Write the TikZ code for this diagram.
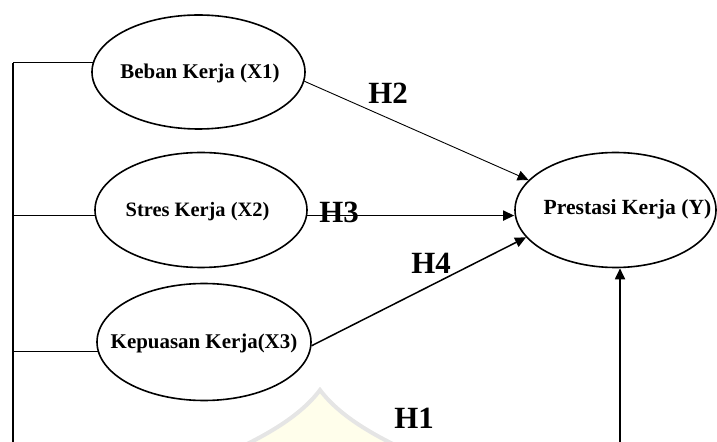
\documentclass[tikz,border=0pt]{standalone}
\usepackage{fontspec}
\setmainfont{Liberation Serif}
\usetikzlibrary{shapes.geometric,arrows.meta}
\begin{document}
\begin{tikzpicture}[x=1bp,y=-1bp,
  var/.style={draw,ellipse,line width=1.6bp,inner sep=0pt},
  vtxt/.style={inner sep=0pt,font=\fontsize{21}{22}\selectfont\bfseries},
  hyp/.style={inner sep=0pt,font=\fontsize{31}{32}\selectfont\bfseries},
  arr/.style={-{Triangle[length=11bp,width=10bp]}},
  wm/.style={draw=black!10,line width=4bp,fill=yellow!8}]
\useasboundingbox (0,0) rectangle (717,442);
% faint watermark
\path[wm] (243,446) .. controls (280,428) and (305,410) .. (320,390)
  .. controls (335,410) and (360,428) .. (397,446);
% variables
\node[var,minimum width=213bp,minimum height=114bp] (x1) at (198.5,72) {};
\node[var,minimum width=212bp,minimum height=115bp] (x2) at (201,210) {};
\node[var,minimum width=214bp,minimum height=117bp] (x3) at (204,342) {};
\node[var,minimum width=201bp,minimum height=115bp] (y) at (615.5,210) {};
\node[vtxt] (x1t) at (200,73) {Beban Kerja (X1)};
\node[vtxt,font=\fontsize{20.5}{22}\selectfont\bfseries] (x2t) at (197.5,212) {Stres Kerja (X2)};
\node[vtxt] (x3t) at (204,343) {Kepuasan Kerja(X3)};
\node[vtxt,font=\fontsize{21.7}{22}\selectfont\bfseries] (yt) at (627.5,209) {Prestasi Kerja (Y)};
% bus on the left and bottom return
\coordinate (bus) at (13,442);
\coordinate (ret) at (620,442);
\draw[line width=1bp] (x1.175) -- (x1.175 -| bus);
\draw[line width=1.4bp] (x1.175 -| bus) -- (bus);
\draw[line width=1.6bp] (x2.183) -- (x2.183 -| bus);
\draw[line width=1.6bp] (x3.185) -- (x3.185 -| bus);
% arrows to Y
\draw[arr,line width=0.9bp] (x1.-5) -- (y.161);
\draw[arr,line width=1.5bp] (x2.-3) -- (x2.-3 -| y.west);
\draw[arr,line width=1.5bp] (x3.-2) -- (y.197);
\draw[arr,line width=1.8bp] (ret) -- (ret |- y.south);
% hypothesis labels
\node[hyp] (h2) at (388,93) {H2};
\node[hyp] (h3) at (339,212) {H3};
\node[hyp] (h4) at (431,263) {H4};
\node[hyp] (h1) at (414,418) {H1};
\end{tikzpicture}
\end{document}
